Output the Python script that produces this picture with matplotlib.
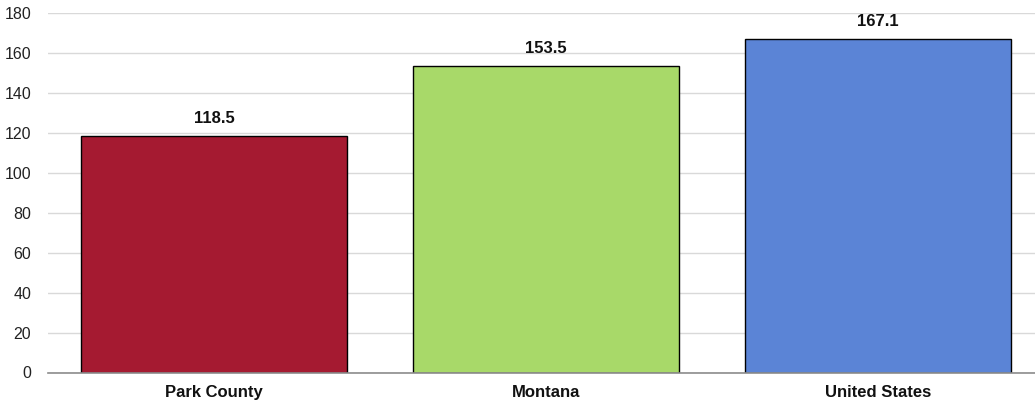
import matplotlib.pyplot as plt

# Datos del gráfico
categorias = ['Park County', 'Montana', 'United States']
valores = [118.5, 153.5, 167.1]
colores = ['#a51a31', '#a8d969', '#5b84d6']

plt.rcParams['font.family'] = ['Liberation Sans', 'DejaVu Sans']

fig = plt.figure(figsize=(10.35, 4.09), dpi=100)
ax = fig.add_axes([48 / 1035, 1 - 372.5 / 409, 1 - 48 / 1035, 359.5 / 409])

x = range(len(categorias))
ax.bar(x, valores, width=0.8, color=colores, edgecolor='black', linewidth=1.0, zorder=3)

for xi, v in zip(x, valores):
    ax.text(xi, v + 5, '%.1f' % v, ha='center', va='bottom',
            fontsize=12, fontweight='bold', color='#111111')

ax.set_ylim(0, 180)
ax.set_xlim(-0.5, -0.5 + (1035 - 48) / 332)
ax.set_yticks(range(0, 181, 20))
ax.set_xticks(list(x))
ax.set_xticklabels(categorias, fontsize=12, fontweight='bold', color='#111111')
ax.tick_params(axis='y', labelsize=11.5, colors='#222222', length=0, pad=12)
ax.tick_params(axis='x', length=0, pad=9)

ax.grid(axis='y', color='#d9d9d9', linewidth=1.0, zorder=0)
for s in ['top', 'right', 'left']:
    ax.spines[s].set_visible(False)
ax.spines['bottom'].set_color('#8c8c8c')
ax.spines['bottom'].set_linewidth(1.2)
ax.spines['bottom'].set_zorder(4)

plt.savefig('out.png', dpi=100)
